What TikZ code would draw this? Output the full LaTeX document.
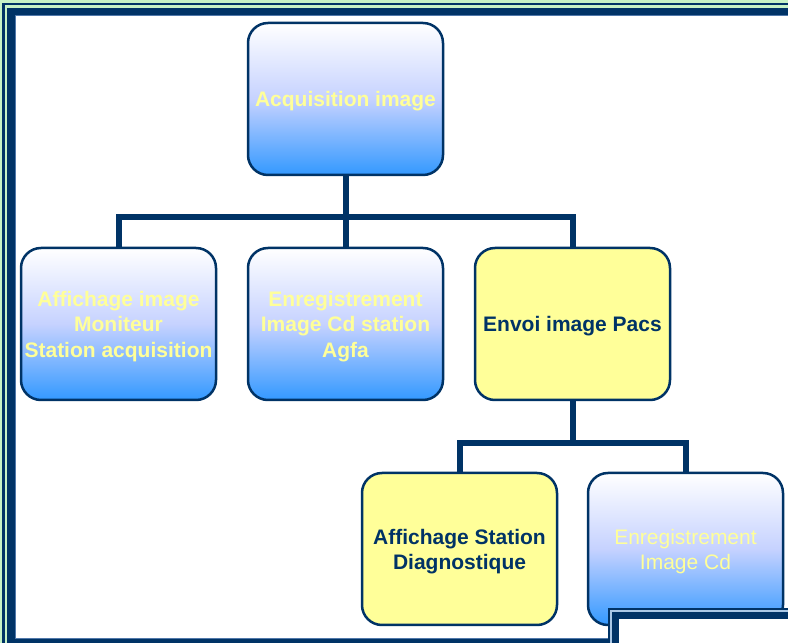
\documentclass[tikz,border=0pt]{standalone}
\usepackage{fontspec}
\setmainfont{Liberation Sans}
\definecolor{navy}{RGB}{0,51,102}
\definecolor{palegreen}{RGB}{198,242,198}
\definecolor{steel}{RGB}{80,120,170}
\definecolor{lightline}{RGB}{170,200,230}
\definecolor{boxblue}{RGB}{51,153,255}
\definecolor{boxmid}{RGB}{198,210,255}
\definecolor{ltyellow}{RGB}{255,255,153}
\pgfdeclarelayer{framelayer}
\pgfdeclarelayer{linklayer}
\pgfdeclarelayer{overlayer}
\pgfsetlayers{framelayer,linklayer,main,overlayer}
\begin{document}
\begin{tikzpicture}[x=1pt,y=1pt,
  boxbase/.style={rectangle, rounded corners=20pt, draw=navy, line width=2.5pt,
    minimum width=195pt, minimum height=152pt, inner sep=0pt},
  bluebox/.style={boxbase, top color=white, bottom color=boxblue, middle color=boxmid},
  yellowbox/.style={boxbase, fill=ltyellow},
  boxtext/.style={inner sep=0pt, align=center, yshift=-2.5pt,
    font=\fontsize{21}{25.5}\selectfont\bfseries},
  ytext/.style={boxtext, text=ltyellow},
  ntext/.style={boxtext, text=navy},
  link/.style={draw=navy, line width=6pt, line join=miter}]
\useasboundingbox (0,0) rectangle (788,643);
% outer frame
\begin{pgfonlayer}{framelayer}
\clip (0,0) rectangle (788,643);
\fill[palegreen] (0,-10) rectangle (900,660);
\draw[navy, line width=2.5pt] (3.5,-20) rectangle (900,639);
\fill[navy] (7,-10) rectangle (900,635);
\fill[white, draw=steel, line width=0.8pt] (15.5,5) rectangle (900,627.5);
\end{pgfonlayer}
% boxes
\node[bluebox] (top) at (345.5,544) {};
\node[bluebox] (b1) at (118.5,319) {};
\node[bluebox] (b2) at (345.5,319) {};
\node[yellowbox] (b3) at (572.5,319) {};
\node[yellowbox] (b4) at (459.5,94) {};
\node[bluebox] (b5) at (685.5,94) {};
% texts
\node[ytext] (t0) at (top.center) {Acquisition image};
\node[ytext] (t1) at (b1.center) {Affichage image\\Moniteur\\Station acquisition};
\node[ytext] (t2) at (b2.center) {Enregistrement\\Image Cd station\\Agfa};
\node[ntext] (t3) at (b3.center) {Envoi image Pacs};
\node[ntext] (t4) at (b4.center) {Affichage Station\\Diagnostique};
\node[ytext, font=\fontsize{21}{25.5}\selectfont] (t5) at (b5.center) {Enregistrement\\Image Cd};
% connectors
\coordinate (j1) at (345.5,426);
\coordinate (j2) at (572.5,200);
\begin{pgfonlayer}{linklayer}
\draw[link] (top.south) -- (b2.north);
\draw[link] (b1.north) |- (j1) -| (b3.north);
\draw[link] (b3.south) -- (j2);
\draw[link] (b4.north) |- (j2) -| (b5.north);
\end{pgfonlayer}
% overlapping frame at bottom right
\begin{pgfonlayer}{overlayer}
\clip (0,0) rectangle (788,643);
\fill[navy] (608,-10) rectangle (900,35);
\fill[lightline] (610,-10) rectangle (900,33);
\fill[navy] (612,-10) rectangle (900,31);
\fill[white] (619,-10) rectangle (900,24);
\end{pgfonlayer}
\end{tikzpicture}
\end{document}
